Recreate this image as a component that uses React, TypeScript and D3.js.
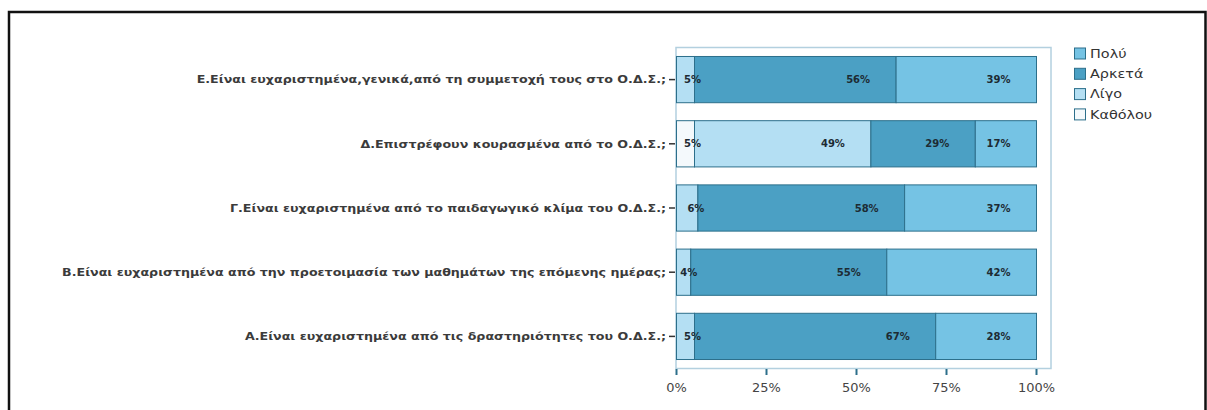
import React, { useEffect, useRef } from "react";
import * as d3 from "d3";

// categories top -> bottom
const categories = [
  "Ε.Είναι ευχαριστημένα,γενικά,από τη συμμετοχή τους στο Ο.Δ.Σ.;",
  "Δ.Επιστρέφουν κουρασμένα από το Ο.Δ.Σ.;",
  "Γ.Είναι ευχαριστημένα από το παιδαγωγικό κλίμα του Ο.Δ.Σ.;",
  "Β.Είναι ευχαριστημένα από την προετοιμασία των μαθημάτων της επόμενης ημέρας;",
  "Α.Είναι ευχαριστημένα από τις δραστηριότητες του Ο.Δ.Σ.;",
];

const seriesNames = ["Καθόλου", "Λίγο", "Αρκετά", "Πολύ"];
const katholou = [0, 5, 0, 0, 0];
const ligo = [5, 49, 6, 4, 5];
const arketa = [56, 29, 58, 55, 67];
const poly = [39, 17, 37, 42, 28];

const legendOrder = ["Πολύ", "Αρκετά", "Λίγο", "Καθόλου"];
const xTicks = [0, 0.25, 0.5, 0.75, 1];

const colors: Record<string, string> = {
  "Καθόλου": "#f4f9fc",
  "Λίγο": "#b4dff3",
  "Αρκετά": "#4ba0c4",
  "Πολύ": "#75c3e4",
};

export default function App() {
  const ref = useRef<SVGSVGElement>(null);

  useEffect(() => {
    const svg = d3.select(ref.current);
    svg.selectAll("*").remove();

    const font = "'DejaVu Sans', Verdana, sans-serif";

    // outer frame
    svg.append("rect")
      .attr("x", 9).attr("y", 12)
      .attr("width", 1196.5).attr("height", 420)
      .attr("fill", "none").attr("stroke", "#111").attr("stroke-width", 2.5);

    const rows = categories.map((c, i) => ({
      cat: c,
      "Καθόλου": katholou[i],
      "Λίγο": ligo[i],
      "Αρκετά": arketa[i],
      "Πολύ": poly[i],
    }));

    const stack = d3.stack<any>()
      .keys(seriesNames)
      .offset(d3.stackOffsetExpand);
    const layers = stack(rows);

    const x = d3.scaleLinear().domain([0, 1]).range([676.5, 1036.5]);
    const y = d3.scaleBand()
      .domain(categories)
      .range([47.5, 368.5])
      .paddingInner(0.28)
      .paddingOuter(0.14);

    // plot frame
    svg.append("rect")
      .attr("x", 676).attr("y", 47.5)
      .attr("width", 375).attr("height", 321)
      .attr("fill", "none").attr("stroke", "#b3d0df").attr("stroke-width", 1.5);

    const bars = svg.append("g");
    const labels = svg.append("g");
    layers.forEach((layer) => {
      const key = layer.key;
      layer.forEach((d, i) => {
        const v = (rows[i] as any)[key];
        if (!v) return;
        const x0 = x(d[0]), x1 = x(d[1]);
        const yy = y(categories[i]) as number;
        bars.append("rect")
          .attr("x", x0).attr("y", yy)
          .attr("width", x1 - x0).attr("height", y.bandwidth())
          .attr("fill", colors[key])
          .attr("stroke", "#2c6f8b").attr("stroke-width", 1);
        const w = x1 - x0;
        labels.append("text")
          .attr("x", w < 30 ? x1 - 2 : x1 - 26)
          .attr("y", yy + y.bandwidth() / 2)
          .attr("dy", "0.35em")
          .attr("text-anchor", w < 30 ? "middle" : "end")
          .attr("font-family", font)
          .attr("font-weight", "bold")
          .attr("font-size", 10)
          .attr("fill", "#1d2b33")
          .text(v + "%");
      });
    });

    // y ticks + labels (text looks stretched sideways in the original)
    categories.forEach((c) => {
      const cy = (y(c) as number) + y.bandwidth() / 2;
      svg.append("line")
        .attr("x1", 669).attr("x2", 675)
        .attr("y1", cy).attr("y2", cy)
        .attr("stroke", "#333").attr("stroke-width", 1.5);
      svg.append("text")
        .attr("transform", `translate(666,${cy}) scale(1.15,1)`)
        .attr("dy", "0.35em")
        .attr("text-anchor", "end")
        .attr("font-family", font)
        .attr("font-weight", "bold")
        .attr("font-size", 11)
        .attr("fill", "#3b3b3b")
        .text(c);
    });

    // x axis
    const xa = svg.append("g");
    xTicks.forEach((t) => {
      xa.append("line")
        .attr("x1", x(t)).attr("x2", x(t))
        .attr("y1", 369).attr("y2", 375)
        .attr("stroke", "#2c6f8b").attr("stroke-width", 2);
      xa.append("text")
        .attr("transform", `translate(${x(t)},388) scale(1.08,1)`)
        .attr("dy", "0.35em")
        .attr("text-anchor", "middle")
        .attr("font-family", font)
        .attr("font-size", 12)
        .attr("fill", "#444")
        .text(d3.format(".0%")(t));
    });

    // legend
    const lg = svg.append("g");
    legendOrder.forEach((name, i) => {
      const ly = 48 + i * 20.3;
      lg.append("rect")
        .attr("x", 1074.5).attr("y", ly)
        .attr("width", 11).attr("height", 11)
        .attr("fill", colors[name])
        .attr("stroke", "#2c6f8b").attr("stroke-width", 1);
      lg.append("text")
        .attr("transform", `translate(1090,${ly + 5.5}) scale(1.2,1)`)
        .attr("dy", "0.35em")
        .attr("font-family", font)
        .attr("font-size", 12)
        .attr("fill", "#333")
        .text(name);
    });
  }, []);

  return (
    <svg
      ref={ref}
      width={1207}
      height={410}
      style={{ position: "absolute", left: 0, top: 0, background: "#fff" }}
    />
  );
}
